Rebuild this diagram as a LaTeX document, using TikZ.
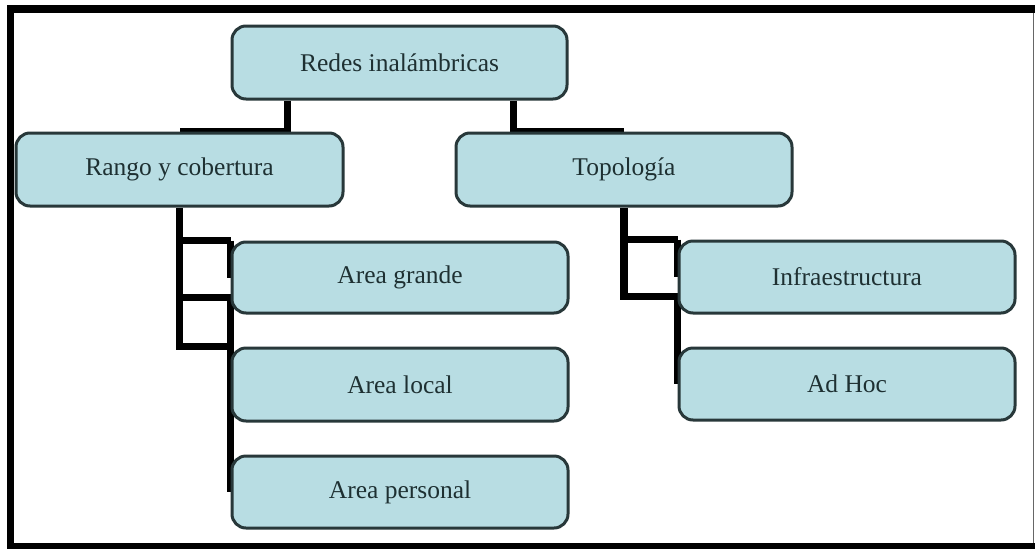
\documentclass[tikz,border=0pt]{standalone}
\usepackage{fontspec}
\setmainfont{Liberation Serif}
\usetikzlibrary{calc}
\definecolor{boxfill}{RGB}{184,221,227}
\definecolor{boxline}{RGB}{40,56,58}
\definecolor{boxtext}{RGB}{30,48,50}
\pgfdeclarelayer{back}
\pgfsetlayers{back,main}
\begin{document}
\begin{tikzpicture}[x=1pt,y=-1pt,
  box/.style={draw=boxline, line width=3pt, fill=boxfill, rounded corners=14pt,
    minimum width=336pt, minimum height=73pt, inner sep=0pt, text=boxtext,
    font=\fontsize{25.5}{30}\selectfont},
  link/.style={line width=7.5pt, draw=black}]
\useasboundingbox (0,0) rectangle (1035,549);

% hierarchy boxes
\node[box, minimum width=335pt] (red) at (399.5,62.5) {Redes inalámbricas};
\node[box, minimum width=327pt] (rango) at (179.5,169.5) {Rango y cobertura};
\node[box] (topo) at (624,169.5) {Topología};
\node[box, minimum height=71pt] (grande) at (400,277.5) {Area grande};
\node[box] (local) at (400,384.5) {Area local};
\node[box, minimum height=72pt] (personal) at (400,492) {Area personal};
\node[box, minimum height=72pt] (infra) at (847,277) {Infraestructura};
\node[box, minimum height=72pt] (adhoc) at (847,384) {Ad Hoc};

% outer frame
\fill[black] (7,5) rectangle (1035,13);
\fill[black] (7,5) rectangle (14,549);
\fill[black] (7,543) rectangle (1035,549);
\draw[black!60, line width=1.5pt] (1033.5,13) -- (1033.5,543);

\begin{pgfonlayer}{back}
  \fill[white] (0,0) rectangle (1035,549);
  % top level
  \draw[link] ($(red.south west)+(57,0)$) |- (rango.north);
  \draw[link] ($(red.south east)+(-55,0)$) |- (topo.north);
  % range and coverage branch
  \coordinate (gmid) at ($(grande.south west)+(0,-17)$);
  \draw[link] (rango.south) |- (local.north west);
  \draw[link] (rango.south |- grande.north) -- (grande.north west);
  \draw[link] (rango.south |- gmid) -- (gmid);
  \draw[link] (grande.north west) -- (grande.west);
  \draw[link] (gmid) -- (personal.west);
  % topology branch
  \coordinate (imid) at ($(infra.south west)+(0,-18)$);
  \draw[link] (topo.south) |- (imid);
  \draw[link] (topo.south |- infra.north) -- (infra.north west);
  \draw[link] (infra.north west) -- (infra.west);
  \draw[link] (imid) -- (adhoc.west);
\end{pgfonlayer}
\end{tikzpicture}
\end{document}
